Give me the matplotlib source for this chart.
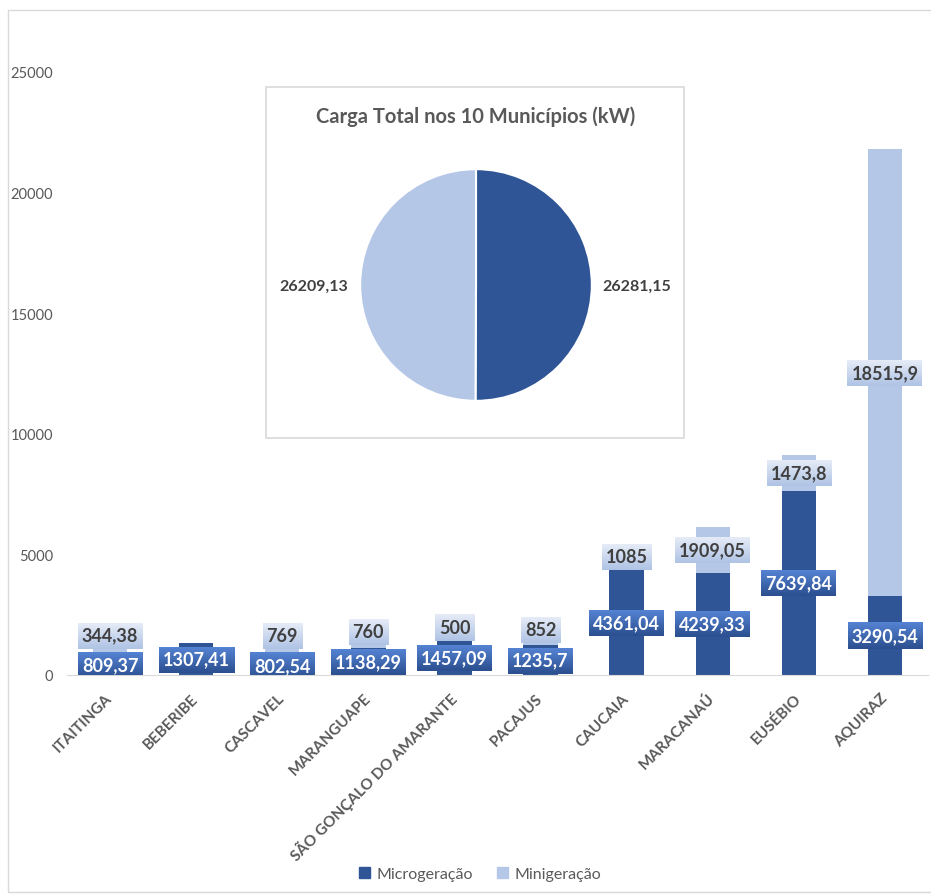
import numpy as np
import matplotlib.pyplot as plt
from matplotlib.colors import LinearSegmentedColormap
from matplotlib.patches import Rectangle

# Dados (kW)
municipios = ['ITAITINGA', 'BEBERIBE', 'CASCAVEL', 'MARANGUAPE', 'SÃO GONÇALO DO AMARANTE',
              'PACAJUS', 'CAUCAIA', 'MARACANAÚ', 'EUSÉBIO', 'AQUIRAZ']
micro = [809.37, 1307.41, 802.54, 1138.29, 1457.09, 1235.7, 4361.04, 4239.33, 7639.84, 3290.54]
mini = [344.38, 0, 769, 760, 500, 852, 1085, 1909.05, 1473.8, 18515.9]
series = ['Microgeração', 'Minigeração']
yticks = [0, 5000, 10000, 15000, 20000, 25000]

cor_micro = '#2F5597'
cor_mini = '#B4C7E7'
cinza = '#595959'
plt.rcParams['font.family'] = ['Lato', 'DejaVu Sans']


def fmt(v):
    s = f"{v:.2f}".rstrip('0').rstrip('.')
    return s.replace('.', ',')


W, H = 931, 895
fig = plt.figure(figsize=(W / 100, H / 100), dpi=100)

# moldura do gráfico
fig.patches.append(Rectangle((8 / W, 2 / H), 1.2, 1 - 13 / H, transform=fig.transFigure,
                             fill=False, edgecolor='#D9D9D9', lw=1))

ax = fig.add_axes([67 / W, 1 - 676 / H, 861 / W, 603 / H])
x = np.arange(len(municipios))
larg = 0.4
ax.bar(x, micro, larg, color=cor_micro, zorder=2)
ax.bar(x, mini, larg, bottom=micro, color=cor_mini, zorder=2)

ax.set_xlim(-0.5, len(municipios) - 0.5)
ax.set_ylim(0, 25000)
ax.set_yticks(yticks)
ax.set_yticklabels([str(t) for t in yticks], color=cinza, fontsize=10.5)
ax.tick_params(axis='y', length=0, pad=10)
ax.set_xticks(x)
ax.set_xticklabels(municipios, rotation=45, ha='right', va='center', rotation_mode='anchor',
                   fontweight='bold', color=cinza, fontsize=11)
ax.tick_params(axis='x', length=0, pad=15)
for s in ['left', 'right', 'top']:
    ax.spines[s].set_visible(False)
ax.spines['bottom'].set_color('#D9D9D9')

# rótulos de dados
rotulos = []
gap = 1250
for i in range(len(municipios)):
    y_mi = micro[i] / 2
    t = ax.text(x[i], y_mi, fmt(micro[i]), ha='center', va='center', color='white',
                fontsize=13, fontweight='bold', zorder=6)
    rotulos.append((t, '#5583D3', '#2B4F8F'))
    if mini[i] > 0:
        y_ma = max(micro[i] + mini[i] / 2, y_mi + gap)
        t = ax.text(x[i], y_ma, fmt(mini[i]), ha='center', va='center', color='#404040',
                    fontsize=13, fontweight='bold', zorder=6)
        rotulos.append((t, '#E6ECF7', '#AFC3E5'))

fig.canvas.draw()
r = fig.canvas.get_renderer()
inv = ax.transData.inverted()
grad = np.linspace(0, 1, 64).reshape(-1, 1)
for t, c1, c2 in rotulos:
    bb = t.get_window_extent(r)
    x0, y0 = inv.transform((bb.x0 - 4, bb.y0 - 5))
    x1, y1 = inv.transform((bb.x1 + 4, bb.y1 + 4))
    cmap = LinearSegmentedColormap.from_list('g', [c2, c1])
    ax.imshow(grad, cmap=cmap, extent=(x0, x1, y0, y1), origin='lower', aspect='auto', zorder=5)
ax.set_xlim(-0.5, len(municipios) - 0.5)
ax.set_ylim(0, 25000)

# gráfico de pizza inserido
fig.patches.append(Rectangle((266 / W, 1 - 439 / H), 418 / W, 351 / H, transform=fig.transFigure,
                             facecolor='white', edgecolor='#D9D9D9', lw=1.2, zorder=3))
fig.text(476 / W, 1 - 117 / H, 'Carga Total nos 10 Municípios (kW)', ha='center', va='center',
         fontsize=14.5, fontweight='bold', color=cinza, zorder=4)
axp = fig.add_axes([359 / W, 1 - 403 / H, 234 / W, 234 / H])
axp.set_zorder(5)
tot = [sum(micro), sum(mini)]
axp.pie(tot, colors=[cor_micro, cor_mini], startangle=90, counterclock=False,
        wedgeprops=dict(edgecolor='white', linewidth=1.5))
axp.set_xlim(-1.01, 1.01)
axp.set_ylim(-1.01, 1.01)
axp.set_aspect('equal')
fig.text(637 / W, 1 - 287 / H, fmt(tot[0]), ha='center', va='center', fontsize=11.5,
         fontweight='bold', color='#404040', zorder=6)
fig.text(314 / W, 1 - 287 / H, fmt(tot[1]), ha='center', va='center', fontsize=11.5,
         fontweight='bold', color='#404040', zorder=6)

# legenda
handles = [Rectangle((0, 0), 1, 1, color=cor_micro), Rectangle((0, 0), 1, 1, color=cor_mini)]
fig.legend(handles, series, loc='center', bbox_to_anchor=(480 / W, 1 - 875 / H), ncol=2,
           frameon=False, fontsize=11.5, handlelength=0.7, handleheight=0.7, columnspacing=1.5,
           handletextpad=0.4, labelcolor=cinza)

fig.savefig('out.png', dpi=100)
